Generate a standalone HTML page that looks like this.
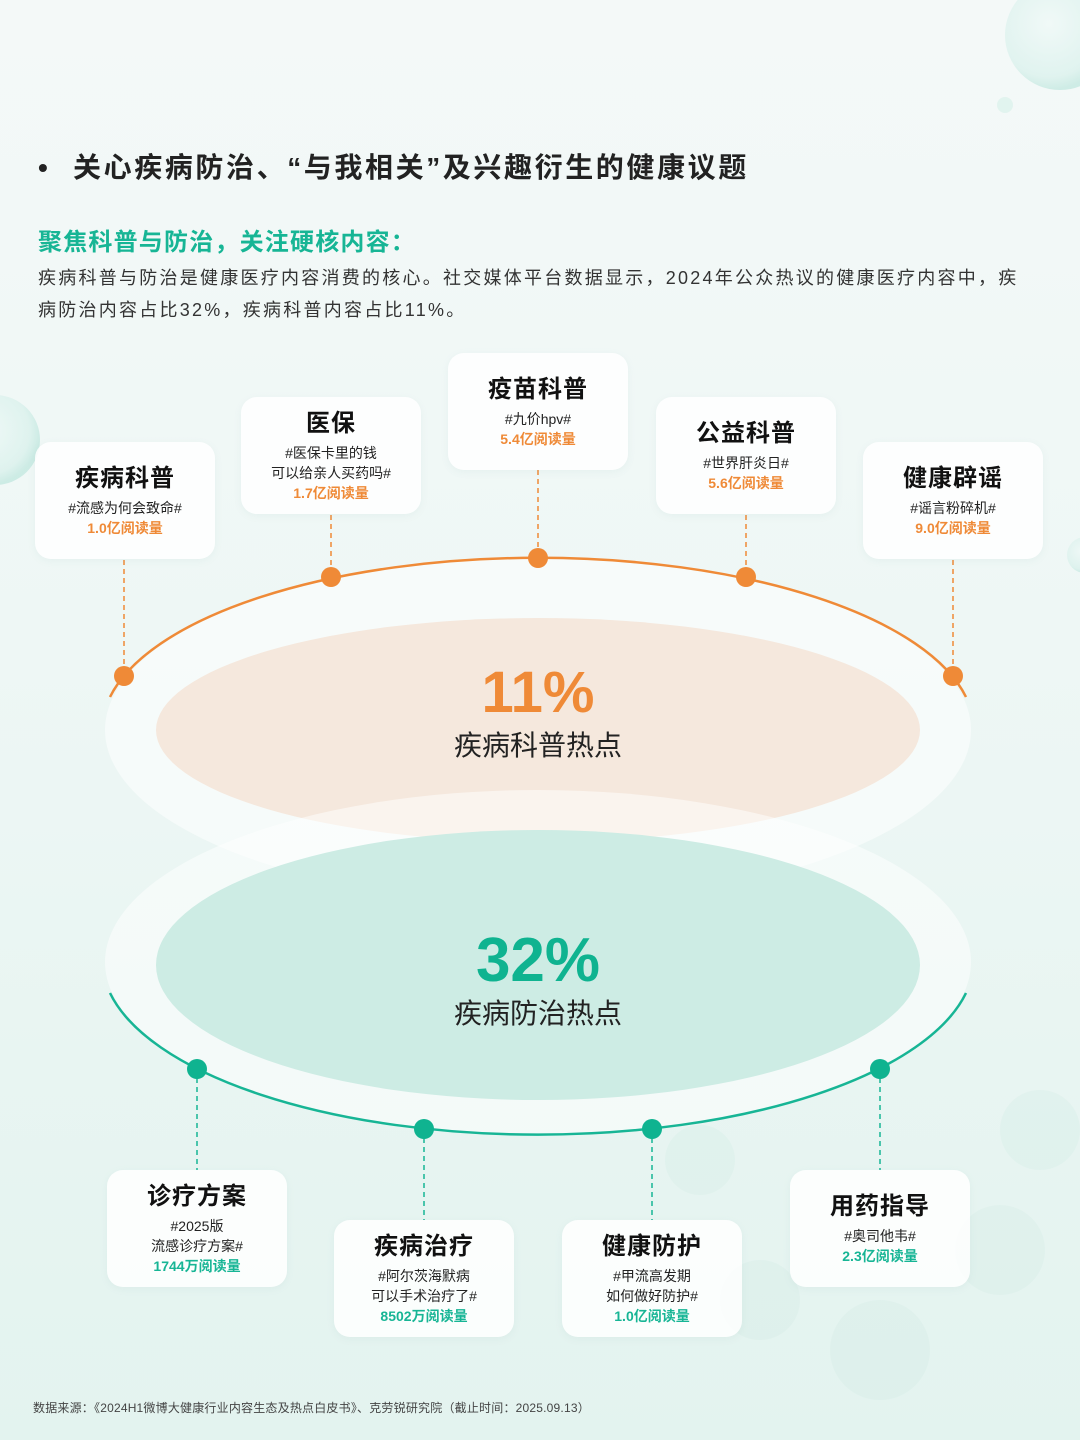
<!DOCTYPE html>
<html><head><meta charset="utf-8"><style>
*{margin:0;padding:0;box-sizing:border-box}
body{width:1080px;height:1440px;position:relative;overflow:hidden;font-family:"Liberation Sans","Noto Sans CJK SC",sans-serif;background:linear-gradient(180deg,#f4f9f8 0%,#eef7f5 45%,#e3f3ef 100%)}
.a{position:absolute}
.card{position:absolute;width:180px;height:117px;background:rgba(255,255,255,0.85);border-radius:16px;display:flex;flex-direction:column;align-items:center;justify-content:center;text-align:center;box-shadow:0 2px 8px rgba(120,170,160,0.08)}
.card h3{font-size:24px;font-weight:bold;color:#111;line-height:30px;margin-bottom:4px;letter-spacing:1px}
.card p{font-size:14px;color:#222;line-height:20px}
.card .o{color:#ef8a37;font-weight:bold}
.card .g{color:#17b595;font-weight:bold}
.cn{text-align:center;width:400px;left:338px}
</style></head><body>
<svg class="a" style="left:0;top:0" width="1080" height="1440">
<defs>
<radialGradient id="bub" cx="40%" cy="40%" r="60%"><stop offset="0" stop-color="#eef9f7"/><stop offset="0.8" stop-color="#d3efe9"/><stop offset="1" stop-color="#b5e3d9"/></radialGradient>
</defs>
<circle cx="1060" cy="35" r="55" fill="url(#bub)" opacity="0.6"/>
<circle cx="1005" cy="105" r="8" fill="#d5f0ea" opacity="0.6"/>
<circle cx="-5" cy="440" r="45" fill="url(#bub)" opacity="0.6"/>
<circle cx="1085" cy="555" r="18" fill="url(#bub)" opacity="0.6"/>
<g opacity="0.15" fill="#bfe3da">
<circle cx="760" cy="1300" r="40"/><circle cx="880" cy="1350" r="50"/><circle cx="1000" cy="1250" r="45"/><circle cx="1040" cy="1130" r="40"/><circle cx="700" cy="1160" r="35"/>
</g>
<ellipse cx="538" cy="730" rx="433" ry="172" fill="rgba(255,255,255,0.5)"/>
<ellipse cx="538" cy="730" rx="382" ry="112" fill="#f5e8dd"/>
<path d="M110,697 A436,172 0 0 1 966,697" fill="none" stroke="#ef8a37" stroke-width="2.5"/>
<ellipse cx="538" cy="962" rx="433" ry="172" fill="rgba(255,255,255,0.5)"/>
<ellipse cx="538" cy="965" rx="382" ry="135" fill="#cdece4"/>
<path d="M110,993 A436,175 0 0 0 966,993" fill="none" stroke="#17b595" stroke-width="2.5"/>
<g stroke="#ef8a37" stroke-width="1.5" stroke-dasharray="5,4">
<line x1="124" y1="560" x2="124" y2="676"/><line x1="331" y1="515" x2="331" y2="577"/><line x1="538" y1="470" x2="538" y2="558"/><line x1="746" y1="515" x2="746" y2="577"/><line x1="953" y1="560" x2="953" y2="676"/>
</g>
<g fill="#ef8a37"><circle cx="124" cy="676" r="10"/><circle cx="331" cy="577" r="10"/><circle cx="538" cy="558" r="10"/><circle cx="746" cy="577" r="10"/><circle cx="953" cy="676" r="10"/></g>
<g stroke="#17b595" stroke-width="1.5" stroke-dasharray="5,4">
<line x1="197" y1="1069" x2="197" y2="1170"/><line x1="424" y1="1129" x2="424" y2="1220"/><line x1="652" y1="1129" x2="652" y2="1220"/><line x1="880" y1="1069" x2="880" y2="1170"/>
</g>
<g fill="#0fb390"><circle cx="197" cy="1069" r="10"/><circle cx="424" cy="1129" r="10"/><circle cx="652" cy="1129" r="10"/><circle cx="880" cy="1069" r="10"/></g>
</svg>

<div class="a" style="left:38px;top:148px;font-size:28px;font-weight:bold;color:#222;line-height:40px">•</div>
<div class="a" style="left:73px;top:148px;font-size:28px;font-weight:bold;color:#222;line-height:40px;letter-spacing:2.6px;white-space:nowrap">关心疾病防治、“与我相关”及兴趣衍生的健康议题</div>
<div class="a" style="left:38px;top:226px;font-size:24px;font-weight:bold;color:#17b595;line-height:34px;letter-spacing:1.2px">聚焦科普与防治，关注硬核内容：</div>
<div class="a" style="left:38px;top:262px;font-size:18px;color:#333;line-height:32px;letter-spacing:2.25px;white-space:nowrap">疾病科普与防治是健康医疗内容消费的核心。社交媒体平台数据显示，2024年公众热议的健康医疗内容中，疾<br>病防治内容占比32%，疾病科普内容占比11%。</div>

<div class="card" style="left:35px;top:442px"><h3>疾病科普</h3><p>#流感为何会致命#</p><p class="o">1.0亿阅读量</p></div>
<div class="card" style="left:241px;top:397px"><h3>医保</h3><p>#医保卡里的钱<br>可以给亲人买药吗#</p><p class="o">1.7亿阅读量</p></div>
<div class="card" style="left:448px;top:353px"><h3>疫苗科普</h3><p>#九价hpv#</p><p class="o">5.4亿阅读量</p></div>
<div class="card" style="left:656px;top:397px"><h3>公益科普</h3><p>#世界肝炎日#</p><p class="o">5.6亿阅读量</p></div>
<div class="card" style="left:863px;top:442px"><h3>健康辟谣</h3><p>#谣言粉碎机#</p><p class="o">9.0亿阅读量</p></div>

<div class="a cn" style="top:658px;font-size:58px;font-weight:bold;color:#ef8a37;line-height:70px">11%</div>
<div class="a cn" style="top:726px;font-size:28px;color:#222;line-height:40px">疾病科普热点</div>
<div class="a cn" style="top:925px;font-size:62px;font-weight:bold;color:#0fb390;line-height:72px">32%</div>
<div class="a cn" style="top:994px;font-size:28px;color:#222;line-height:40px">疾病防治热点</div>

<div class="card" style="left:107px;top:1170px"><h3>诊疗方案</h3><p>#2025版<br>流感诊疗方案#</p><p class="g">1744万阅读量</p></div>
<div class="card" style="left:334px;top:1220px"><h3>疾病治疗</h3><p>#阿尔茨海默病<br>可以手术治疗了#</p><p class="g">8502万阅读量</p></div>
<div class="card" style="left:562px;top:1220px"><h3>健康防护</h3><p>#甲流高发期<br>如何做好防护#</p><p class="g">1.0亿阅读量</p></div>
<div class="card" style="left:790px;top:1170px"><h3>用药指导</h3><p>#奥司他韦#</p><p class="g">2.3亿阅读量</p></div>

<div class="a" style="left:33px;top:1400px;font-size:12px;color:#444;line-height:16px;letter-spacing:0.2px">数据来源：《2024H1微博大健康行业内容生态及热点白皮书》、克劳锐研究院（截止时间：2025.09.13）</div>
</body></html>
